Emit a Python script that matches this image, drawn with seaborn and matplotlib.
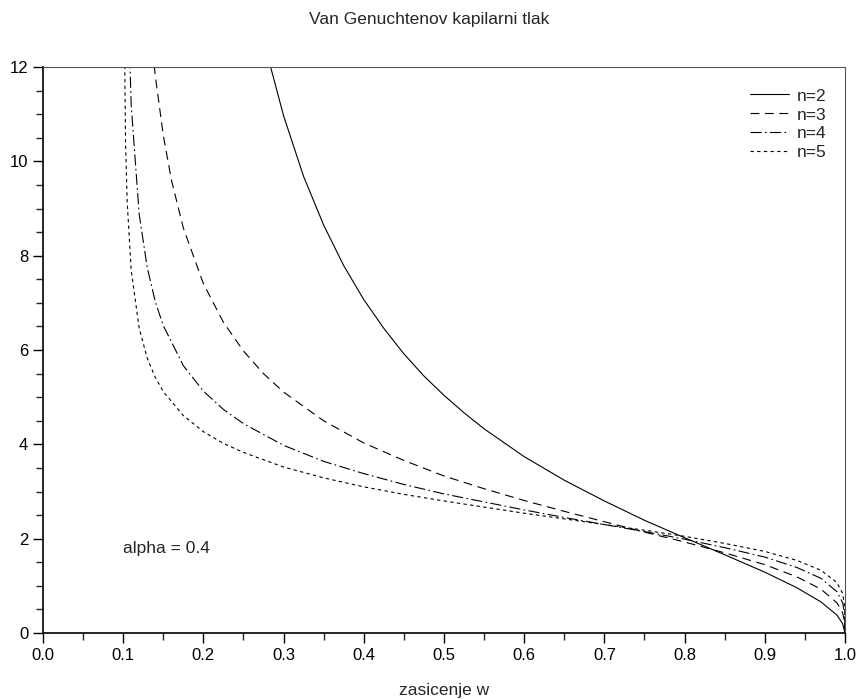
"""Van Genuchten capillary pressure curves for several n values"""

import seaborn as sns
import matplotlib.pyplot as plt
from matplotlib.ticker import MultipleLocator

# values (alpha = 0.4)
w_n2 = [0.28, 0.30, 0.325, 0.35, 0.375, 0.40, 0.425, 0.45, 0.475, 0.50, 0.525, 0.55,
        0.60, 0.65, 0.70, 0.75, 0.80, 0.85, 0.90, 0.94, 0.97, 0.99, 0.997, 1.0]
p_n2 = [12.25, 10.97, 9.68, 8.65, 7.79, 7.07, 6.46, 5.92, 5.45, 5.04, 4.67, 4.33,
        3.74, 3.24, 2.80, 2.39, 2.02, 1.66, 1.29, 0.96, 0.66, 0.38, 0.20, 0.0]

w_n3 = [0.135, 0.14, 0.15, 0.16, 0.175, 0.20, 0.225, 0.25, 0.275, 0.30, 0.35, 0.40,
        0.45, 0.50, 0.55, 0.60, 0.65, 0.70, 0.75, 0.80, 0.85, 0.90, 0.94, 0.97,
        0.99, 0.997, 0.9995, 1.0]
p_n3 = [12.65, 11.82, 10.56, 9.62, 8.59, 7.41, 6.59, 5.98, 5.50, 5.11, 4.50, 4.03,
        3.66, 3.33, 3.06, 2.81, 2.58, 2.36, 2.14, 1.93, 1.70, 1.45, 1.19, 0.93,
        0.64, 0.43, 0.24, 0.0]

w_n4 = [0.105, 0.11, 0.12, 0.13, 0.14, 0.15, 0.175, 0.20, 0.225, 0.25, 0.30, 0.35,
        0.40, 0.45, 0.50, 0.55, 0.60, 0.65, 0.70, 0.75, 0.80, 0.85, 0.90, 0.94,
        0.97, 0.99, 0.997, 0.9995, 1.0]
p_n4 = [14.1, 11.20, 8.88, 7.75, 7.03, 6.52, 5.67, 5.13, 4.74, 4.44, 3.98, 3.64,
        3.38, 3.15, 2.95, 2.78, 2.61, 2.45, 2.30, 2.15, 1.99, 1.81, 1.61, 1.39,
        1.16, 0.875, 0.646, 0.41, 0.0]

w_n5 = [0.101, 0.103, 0.105, 0.11, 0.12, 0.13, 0.14, 0.15, 0.175, 0.20, 0.225, 0.25,
        0.30, 0.35, 0.40, 0.45, 0.50, 0.55, 0.60, 0.65, 0.70, 0.75, 0.80, 0.85,
        0.90, 0.94, 0.97, 0.99, 0.997, 0.9995, 1.0]
p_n5 = [13.7, 10.40, 9.15, 7.70, 6.46, 5.83, 5.42, 5.12, 4.61, 4.27, 4.02, 3.83,
        3.52, 3.29, 3.10, 2.94, 2.80, 2.67, 2.54, 2.42, 2.30, 2.18, 2.05, 1.90,
        1.73, 1.54, 1.33, 1.07, 0.84, 0.58, 0.0]

labels = ['n=2', 'n=3', 'n=4', 'n=5']

sns.set_style('ticks')
plt.rcParams['font.family'] = ['Liberation Sans', 'DejaVu Sans']

fig = plt.figure(figsize=(8.59, 6.99), dpi=100)
ax = fig.add_axes([0.050, 0.0944, 0.9337, 0.8096])

curves = [(w_n2, p_n2, '-'), (w_n3, p_n3, (0, (8, 5))),
          (w_n4, p_n4, (0, (10, 3, 1.5, 3))), (w_n5, p_n5, (0, (3, 3)))]
for (w, p, ls), lab in zip(curves, labels):
    sns.lineplot(x=w, y=p, ax=ax, color='black', linewidth=0.8,
                 linestyle=ls, label=lab, sort=False, estimator=None)

ax.set_xlim(0, 1)
ax.set_ylim(0, 12)
ax.xaxis.set_major_locator(MultipleLocator(0.1))
ax.xaxis.set_minor_locator(MultipleLocator(0.05))
ax.yaxis.set_major_locator(MultipleLocator(2))
ax.yaxis.set_minor_locator(MultipleLocator(0.5))
ax.xaxis.set_major_formatter(plt.FormatStrFormatter('%.1f'))
ax.tick_params(which='major', direction='out', length=7.5, width=1, labelsize=12,
               colors='black', pad=3)
ax.tick_params(which='minor', direction='out', length=5, width=1)

for side in ['top', 'right']:
    ax.spines[side].set_color('#555555')
    ax.spines[side].set_linewidth(0.8)
for side in ['left', 'bottom']:
    ax.spines[side].set_color('black')
    ax.spines[side].set_linewidth(1.2)

ax.text(0.1, 1.8, 'alpha = 0.4', fontsize=12.5, va='center', ha='left')

ax.set_xlabel('zasicenje w', fontsize=12.5, labelpad=15)
ax.set_ylabel('')
fig.suptitle('Van Genuchtenov kapilarni tlak', fontsize=12.5, y=0.983)

ax.legend(loc='upper right', frameon=False, fontsize=12.5, handlelength=2.2,
          labelspacing=0.22, bbox_to_anchor=(0.997, 0.99), handletextpad=0.5)

fig.savefig('out.png', dpi=100)
plt.close(fig)
